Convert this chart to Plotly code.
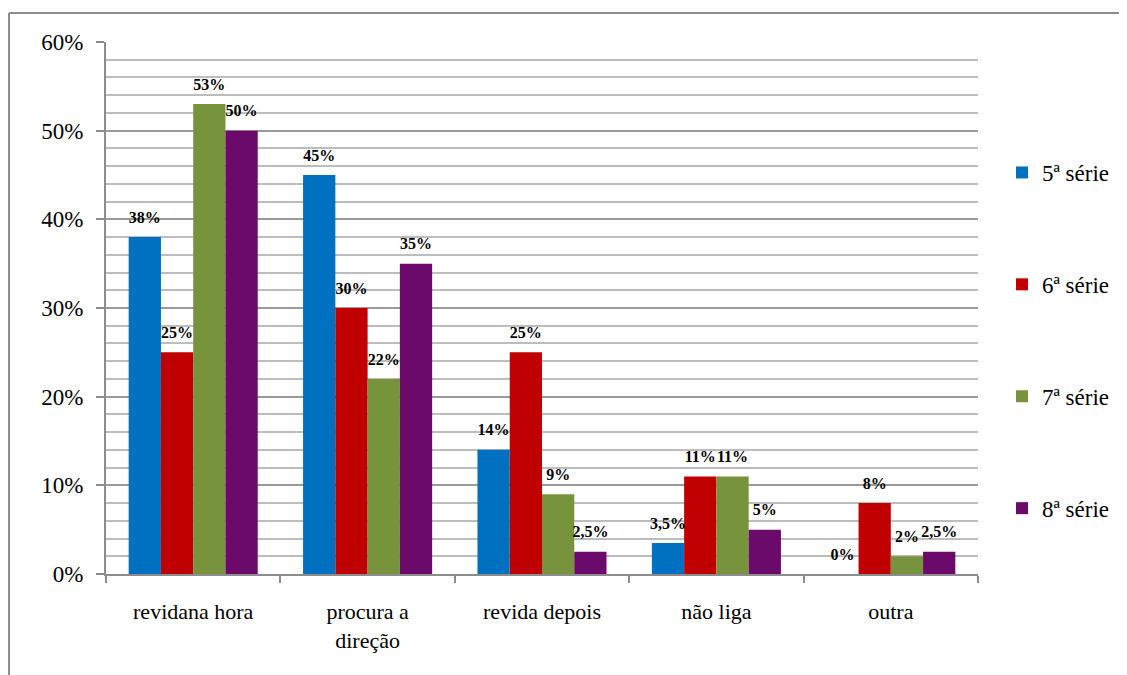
import plotly.graph_objects as go

categories = ["revidana hora", "procura a<br>direção", "revida depois", "não liga", "outra"]
series_names = ["5ª série", "6ª série", "7ª série", "8ª série"]
s5 = [38, 45, 14, 3.5, 0]
s6 = [25, 30, 25, 11, 8]
s7 = [53, 22, 9, 11, 2]
s8 = [50, 35, 2.5, 5, 2.5]
colors = ["#0070C0", "#C00000", "#77933C", "#6B0A6B"]

SERIF = "Liberation Serif"

def fmt(v):
    return (f"{v:g}".replace(".", ",")) + "%"

fig = go.Figure()
for i, (name, vals) in enumerate(zip(series_names, [s5, s6, s7, s8])):
    fig.add_trace(go.Bar(
        x=categories, y=vals, name=name,
        marker=dict(color=colors[i], line=dict(width=0)),
        legendgroup=f"g{i}", offsetgroup=f"o{i}",
        hoverinfo="skip",
    ))
for i, vals in enumerate([s5, s6, s7, s8]):
    fig.add_trace(go.Scatter(
        x=categories, y=vals, mode="markers+text",
        marker=dict(size=15, opacity=0, color=colors[i]),
        text=[fmt(v) for v in vals], textposition="top center",
        textfont=dict(family=SERIF, size=16, color="black", weight="bold"),
        showlegend=False, cliponaxis=False, offsetgroup=f"o{i}", hoverinfo="skip",
    ))

# page body has an 8px margin, so figure coords = page coords - 8
OFF = 8
W, H = 1127 - OFF, 675 - OFF
L, R, T, B = 106 - OFF, 978 - OFF, 42 - OFF, 574 - OFF
fig.update_layout(
    width=W, height=H,
    margin=dict(l=L, r=W - R, t=T, b=H - B, autoexpand=False),
    paper_bgcolor="white", plot_bgcolor="white",
    barmode="group", bargap=0.26, bargroupgap=0,
    scattermode="group", scattergap=0.26,
    font=dict(family=SERIF, color="black"),
    legend=dict(x=(1002 - OFF - L) / (R - L), y=(B - (151 - OFF)) / (B - T),
                xanchor="left", yanchor="top",
                font=dict(family=SERIF, size=23),
                tracegroupgap=79, traceorder="grouped", itemwidth=30),
    showlegend=True,
    xaxis=dict(
        showline=True, linecolor="#8c8c8c", linewidth=2,
        ticks="outside", tickson="boundaries", ticklen=7, tickcolor="#8c8c8c", tickwidth=2,
        tickfont=dict(family=SERIF, size=22), showgrid=False, ticklabelstandoff=17,
    ),
    yaxis=dict(
        range=[0, 60], dtick=10, ticksuffix="%",
        showline=True, linecolor="#8c8c8c", linewidth=2,
        ticks="outside", ticklen=8, tickcolor="#8c8c8c", tickwidth=2,
        tickfont=dict(family=SERIF, size=23), ticklabelstandoff=8,
        showgrid=True, gridcolor="#9a9a9a", gridwidth=1.5,
        minor=dict(dtick=2, showgrid=True, gridcolor="#bdbdbd", gridwidth=1.5),
        zeroline=False,
    ),
)

# outer chart frame (top and left edges visible)
fx = (9 - OFF - L) / (R - L)
fy = (B - (13 - OFF)) / (B - T)
fig.add_shape(type="line", xref="paper", yref="paper",
              x0=fx, x1=(W + 20 - L) / (R - L), y0=fy, y1=fy,
              line=dict(color="#8c8c8c", width=2))
fig.add_shape(type="line", xref="paper", yref="paper",
              x0=fx, x1=fx, y0=fy, y1=(B - H - 20) / (B - T),
              line=dict(color="#8c8c8c", width=2))

fig.write_html("out.html")
